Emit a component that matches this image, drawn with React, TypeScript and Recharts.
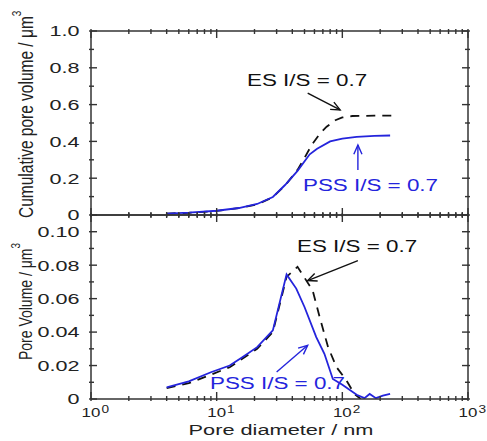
import React from 'react';
import { LineChart, Line, XAxis, YAxis, ReferenceLine } from 'recharts';

// top panel: cumulative pore volume
const cumPssD = [4, 6, 10, 15, 21, 28, 35, 44, 55, 63, 80, 100, 130, 180, 240];
const cumPssV = [0.008, 0.0125, 0.023, 0.038, 0.06, 0.098, 0.163, 0.24, 0.33, 0.36, 0.4, 0.415, 0.425, 0.43, 0.432];
const cumEsD = [4, 6, 10, 15, 21, 28, 35, 44, 50, 57, 66, 75, 88, 100, 120, 180, 250];
const cumEsV = [0.008, 0.012, 0.022, 0.037, 0.058, 0.097, 0.16, 0.245, 0.31, 0.38, 0.44, 0.48, 0.515, 0.53, 0.538, 0.54, 0.54];

// bottom panel: pore volume distribution
const pvPssD = [4, 6, 9, 12.7, 16, 21, 28, 36, 43, 50, 62, 72, 84, 100, 130, 150, 165, 185, 210, 240];
const pvPssV = [0.007, 0.0105, 0.016, 0.02, 0.025, 0.031, 0.041, 0.0745, 0.066, 0.055, 0.037, 0.027, 0.012, 0.0085, 0.0025, 0.0005, 0.003, 0.0005, 0.002, 0.003];
const pvEsD = [4, 6, 9, 12.7, 16, 21, 28, 36, 44, 58, 66, 77, 90, 108, 125, 140];
const pvEsV = [0.0065, 0.0095, 0.0145, 0.019, 0.024, 0.03, 0.04, 0.073, 0.079, 0.065, 0.049, 0.031, 0.019, 0.011, 0.003, 0];

// axes
const xTicks = [1, 2, 3, 4, 5, 6, 7, 8, 9, 10, 20, 30, 40, 50, 60, 70, 80, 90, 100, 200, 300, 400, 500, 600, 700, 800, 900, 1000];
const xExp: Record<string, string> = { '1': '0', '10': '1', '100': '2', '1000': '3' };
const topTicks = [0, 0.1, 0.2, 0.3, 0.4, 0.5, 0.6, 0.7, 0.8, 0.9, 1.0];
const topLabels: Record<string, string> = { '0': '0', '0.2': '0.2', '0.4': '0.4', '0.6': '0.6', '0.8': '0.8', '1': '1.0' };
const botTicks = [0, 0.01, 0.02, 0.03, 0.04, 0.05, 0.06, 0.07, 0.08, 0.09, 0.1];
const botLabels: Record<string, string> = { '0': '0', '0.02': '0.02', '0.04': '0.04', '0.06': '0.06', '0.08': '0.08', '0.1': '0.10' };

// annotation arrows (data units)
const topEsArrow = [{ x: 53, y: 0.663 }, { x: 96, y: 0.571 }];
const topPssArrow = [{ x: 133, y: 0.245 }, { x: 133, y: 0.38 }];
const botEsArrow = [{ x: 133, y: 0.0827 }, { x: 53, y: 0.0708 }];
const botPssArrow = [{ x: 30, y: 0.0161 }, { x: 53, y: 0.0321 }];

const FONT = '"Liberation Sans", Arial, sans-serif';
const AXIS = '#333';
const BLUE = '#2424dc';
const BLACK = '#111';

const pts = (d: number[], v: number[]) => d.map((x, i) => ({ d: x, v: v[i] }));

const XTick = (props: any) => {
  const { x, y, payload, dir, showLabel } = props;
  const exp = xExp[String(payload.value)];
  const len = exp !== undefined ? 9 : 5;
  return (
    <g>
      <line x1={x} x2={x} y1={y} y2={y + dir * len} stroke={AXIS} strokeWidth={1.4} />
      {showLabel && exp !== undefined && (
        <g transform={`translate(${x},${y + 16}) scale(1.3,1)`} fill="#222" fontFamily={FONT}>
          <text x={0} y={0} textAnchor="middle" fontSize={13}>10</text>
          <text x={8} y={-4} fontSize={10.5}>{exp}</text>
        </g>
      )}
    </g>
  );
};

const YTick = (props: any) => {
  const { x, y, payload, dir, labels } = props;
  const lab = labels ? labels[String(payload.value)] : undefined;
  const major = labels ? lab !== undefined : props.majors.includes(String(payload.value));
  const len = major ? 8 : 5;
  return (
    <g>
      <line x1={x} x2={x + dir * len} y1={y} y2={y} stroke={AXIS} strokeWidth={1.4} />
      {lab !== undefined && (
        <text transform={`translate(${x - 9.5},${y + 5.4}) scale(1.44,1)`} textAnchor="end" fontSize={15} fill="#222" fontFamily={FONT}>
          {lab}
        </text>
      )}
    </g>
  );
};

const Arrow = (props: any) => {
  const { x1, y1, x2, y2, stroke } = props;
  const ang = Math.atan2(y2 - y1, x2 - x1);
  const h = 10;
  const a1 = ang + Math.PI - 0.42;
  const a2 = ang + Math.PI + 0.42;
  return (
    <g stroke={stroke} strokeWidth={1.4} fill="none">
      <line x1={x1} y1={y1} x2={x2} y2={y2} />
      <polyline points={`${x2 + h * Math.cos(a1)},${y2 + h * Math.sin(a1)} ${x2},${y2} ${x2 + h * Math.cos(a2)},${y2 + h * Math.sin(a2)}`} />
    </g>
  );
};

const axisLine = { stroke: AXIS, strokeWidth: 1.5 };

const Frame = ({ yTicks, yLabels, yDomain, topH, botH }: any) => [
  <XAxis key="xb" xAxisId="b" dataKey="d" type="number" scale="log" domain={[1, 1000]} allowDataOverflow ticks={xTicks} interval={0}
    height={botH} tickSize={0} tickLine={false} axisLine={axisLine} tick={<XTick dir={-1} showLabel={botH > 20} />} />,
  <XAxis key="xt" xAxisId="t" orientation="top" dataKey="d" type="number" scale="log" domain={[1, 1000]} allowDataOverflow ticks={xTicks} interval={0}
    height={topH} tickSize={0} tickLine={false} axisLine={axisLine} tick={<XTick dir={1} showLabel={false} />} />,
  <YAxis key="yl" yAxisId="l" type="number" domain={yDomain} allowDataOverflow ticks={yTicks} interval={0}
    width={91} tickSize={0} tickLine={false} axisLine={axisLine} tick={<YTick dir={1} labels={yLabels} />} />,
  <YAxis key="yr" yAxisId="r" orientation="right" type="number" domain={yDomain} allowDataOverflow ticks={yTicks} interval={0}
    width={19} tickSize={0} tickLine={false} axisLine={axisLine} tick={<YTick dir={-1} majors={Object.keys(yLabels)} />} />,
];

export default function App() {
  return (
    <div style={{ position: 'absolute', left: 0, top: 0, width: 487, height: 441, background: '#fff', fontFamily: FONT }}>
      <div style={{ position: 'absolute', left: 0, top: 0 }}>
        <LineChart width={487} height={230} margin={{ top: 0, right: 0, bottom: 0, left: 0 }}>
          {Frame({ yTicks: topTicks, yLabels: topLabels, yDomain: [0, 1], topH: 31, botH: 15 })}
          <Line xAxisId="b" yAxisId="l" data={pts(cumEsD, cumEsV)} dataKey="v" stroke={BLACK} strokeWidth={1.8}
            strokeDasharray="9 7" dot={false} isAnimationActive={false} />
          <Line xAxisId="b" yAxisId="l" data={pts(cumPssD, cumPssV)} dataKey="v" stroke={BLUE} strokeWidth={1.8}
            dot={false} isAnimationActive={false} />
          <ReferenceLine xAxisId="b" yAxisId="l" segment={topEsArrow} stroke={BLACK} shape={Arrow} />
          <ReferenceLine xAxisId="b" yAxisId="l" segment={topPssArrow} stroke={BLUE} shape={Arrow} />
        </LineChart>
      </div>
      <div style={{ position: 'absolute', left: 0, top: 200 }}>
        <LineChart width={487} height={241} margin={{ top: 0, right: 0, bottom: 0, left: 0 }}>
          {Frame({ yTicks: botTicks, yLabels: botLabels, yDomain: [0, 0.11], topH: 15, botH: 42 })}
          <Line xAxisId="b" yAxisId="l" data={pts(pvEsD, pvEsV)} dataKey="v" stroke={BLACK} strokeWidth={1.8}
            strokeDasharray="9 7" dot={false} isAnimationActive={false} />
          <Line xAxisId="b" yAxisId="l" data={pts(pvPssD, pvPssV)} dataKey="v" stroke={BLUE} strokeWidth={1.8}
            dot={false} isAnimationActive={false} />
          <ReferenceLine xAxisId="b" yAxisId="l" segment={botEsArrow} stroke={BLACK} shape={Arrow} />
          <ReferenceLine xAxisId="b" yAxisId="l" segment={botPssArrow} stroke={BLUE} shape={Arrow} />
        </LineChart>
      </div>
      <svg width={487} height={441} style={{ position: 'absolute', left: 0, top: 0, pointerEvents: 'none' }} fontFamily={FONT}>
        <text transform="translate(247,86) scale(1.4,1)" fontSize={16} fill={BLACK}>ES I/S = 0.7</text>
        <text transform="translate(303,191) scale(1.4,1)" fontSize={16} fill={BLUE}>PSS I/S = 0.7</text>
        <text transform="translate(297,252) scale(1.4,1)" fontSize={16} fill={BLACK}>ES I/S = 0.7</text>
        <text transform="translate(210,389) scale(1.4,1)" fontSize={16} fill={BLUE}>PSS I/S = 0.7</text>
        <text transform="translate(281,435) scale(1.45,1)" fontSize={15} textAnchor="middle" fill="#222">Pore diameter / nm</text>
        <text transform="translate(33,218) scale(1.3,1) rotate(-90)" fontSize={15.5} fill="#222">
          Cumulative pore volume / μm<tspan fontSize={10} dy={-9}>3</tspan>
        </text>
        <text transform="translate(32,360) scale(1.3,1) rotate(-90)" fontSize={14} fill="#222">
          Pore Volume / μm<tspan fontSize={10} dy={-9}>3</tspan>
        </text>
      </svg>
    </div>
  );
}
